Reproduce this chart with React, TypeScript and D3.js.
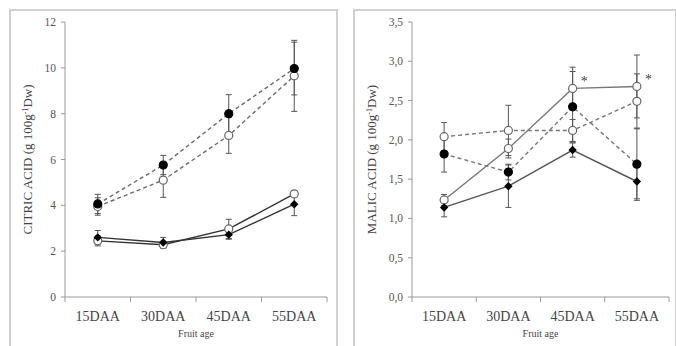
import React from 'react';
import * as d3 from 'd3';

const categories = ['15DAA', '30DAA', '45DAA', '55DAA'];

// citric acid panel
const citricTicks = [0, 2, 4, 6, 8, 10, 12];
const citricDashFilled = [4.06, 5.76, 8.0, 9.97];
const citricDashFilledErr = [0.42, 0.42, 0.83, 1.15];
const citricDashOpen = [3.95, 5.1, 7.05, 9.65];
const citricDashOpenErr = [0.38, 0.75, 0.78, 1.55];
const citricSolidFilled = [2.6, 2.38, 2.72, 4.05];
const citricSolidFilledErr = [0.3, 0.22, 0.2, 0.5];
const citricSolidOpen = [2.45, 2.28, 2.97, 4.5];
const citricSolidOpenErr = [0.22, 0.15, 0.42, 0.12];

// malic acid panel
const malicTicks = [0, 0.5, 1, 1.5, 2, 2.5, 3, 3.5];
const malicDashFilled = [1.82, 1.59, 2.42, 1.69];
const malicDashFilledErr = [0.23, 0.1, 0.45, 0.46];
const malicDashOpen = [2.04, 2.12, 2.12, 2.49];
const malicDashOpenErr = [0.18, 0.32, 0.14, 0.35];
const malicSolidFilled = [1.14, 1.41, 1.87, 1.47];
const malicSolidFilledErr = [0.12, 0.27, 0.09, 0.22];
const malicSolidOpen = [1.235, 1.89, 2.655, 2.68];
const malicSolidOpenErr = [0.07, 0.12, 0.27, 0.4];
const malicStars = [false, false, true, true];

type Series = {
  values: number[];
  err: number[];
  marker: 'filled' | 'open' | 'diamond';
  dashed: boolean;
  line: string;
};

const FONT = "'Liberation Serif', 'DejaVu Serif', serif";

function Panel(props: {
  left: number;
  right: number;
  axisX: number;
  axisEnd: number;
  max: number;
  ticks: number[];
  fmt: (v: number) => string;
  title: string;
  series: Series[];
  stars?: { values: number[]; show: boolean[] };
}) {
  const { left, right, axisX, axisEnd, max, ticks, fmt, title, series, stars } = props;
  const y = d3.scaleLinear().domain([0, max]).range([297, 22]);
  const x = d3.scaleBand<string>().domain(categories).range([axisX, axisEnd]);
  const cx = (c: string) => (x(c) ?? 0) + x.bandwidth() / 2;
  const line = d3
    .line<number>()
    .x((_, i) => cx(categories[i]))
    .y((d) => y(d));
  const bounds = [axisX, ...categories.map((c) => (x(c) ?? 0) + x.bandwidth())];

  return (
    <g>
      <rect x={left} y={10} width={right - left} height={345} fill="#fff" stroke="#d0d0d0" strokeWidth={2} />
      {/* y axis */}
      <line x1={axisX} x2={axisX} y1={y(max)} y2={y(0)} stroke="#9a9a9a" />
      {ticks.map((t) => (
        <g key={t}>
          <line x1={axisX - 4} x2={axisX} y1={y(t)} y2={y(t)} stroke="#9a9a9a" />
          <text x={axisX - 9} y={y(t)} dy="0.35em" textAnchor="end" fontSize={11.5} fill="#555" fontFamily={FONT}>
            {fmt(t)}
          </text>
        </g>
      ))}
      {/* x axis */}
      <line x1={axisX} x2={axisEnd} y1={y(0)} y2={y(0)} stroke="#9a9a9a" />
      {bounds.map((b, i) => (
        <line key={i} x1={b} x2={b} y1={y(0)} y2={y(0) + 5} stroke="#9a9a9a" />
      ))}
      {categories.map((c) => (
        <text key={c} x={cx(c)} y={321} textAnchor="middle" fontSize={14} fill="#444" fontFamily={FONT}>
          {c}
        </text>
      ))}
      <text x={(axisX + axisEnd) / 2} y={337} textAnchor="middle" fontSize={10} fill="#444" fontFamily={FONT}>
        Fruit age
      </text>
      <text
        transform={`translate(${left + 22},${(y(0) + y(max)) / 2}) rotate(-90)`}
        textAnchor="middle"
        fontSize={13}
        fill="#444"
        fontFamily={FONT}
      >
        {title.split('|')[0]}
        <tspan dy={-4} fontSize={8}>-1</tspan>
        <tspan dy={4}>{title.split('|')[1]}</tspan>
      </text>
      {/* lines */}
      {series.map((s, k) => (
        <path
          key={k}
          d={line(s.values) ?? ''}
          fill="none"
          stroke={s.line}
          strokeWidth={1.4}
          strokeDasharray={s.dashed ? '4,3' : undefined}
        />
      ))}
      {/* error bars */}
      {series.map((s, k) =>
        s.values.map((v, i) => {
          const px = cx(categories[i]);
          const hi = y(v + s.err[i]);
          const lo = y(v - s.err[i]);
          return (
            <g key={`${k}-${i}`} stroke="#555" strokeWidth={1}>
              <line x1={px} x2={px} y1={hi} y2={lo} />
              <line x1={px - 3} x2={px + 3} y1={hi} y2={hi} />
              <line x1={px - 3} x2={px + 3} y1={lo} y2={lo} />
            </g>
          );
        })
      )}
      {/* markers */}
      {series.map((s, k) =>
        s.values.map((v, i) => {
          const px = cx(categories[i]);
          const py = y(v);
          if (s.marker === 'diamond') {
            return (
              <path
                key={`m${k}-${i}`}
                d={`M${px},${py - 4.2}L${px + 4.2},${py}L${px},${py + 4.2}L${px - 4.2},${py}Z`}
                fill="#000"
              />
            );
          }
          return (
            <circle
              key={`m${k}-${i}`}
              cx={px}
              cy={py}
              r={4}
              fill={s.marker === 'filled' ? '#000' : '#fff'}
              stroke={s.marker === 'filled' ? '#000' : '#666'}
              strokeWidth={1.2}
            />
          );
        })
      )}
      {stars &&
        stars.values.map((v, i) =>
          stars.show[i] ? (
            <text key={`s${i}`} x={cx(categories[i]) + 8} y={y(v) - 2} fontSize={14} fill="#444" fontFamily={FONT}>
              *
            </text>
          ) : null
        )}
    </g>
  );
}

export default function App() {
  const citricSeries: Series[] = [
    { values: citricDashOpen, err: citricDashOpenErr, marker: 'open', dashed: true, line: '#6a6a6a' },
    { values: citricDashFilled, err: citricDashFilledErr, marker: 'filled', dashed: true, line: '#6a6a6a' },
    { values: citricSolidOpen, err: citricSolidOpenErr, marker: 'open', dashed: false, line: '#333' },
    { values: citricSolidFilled, err: citricSolidFilledErr, marker: 'diamond', dashed: false, line: '#333' },
  ];
  const malicSeries: Series[] = [
    { values: malicDashOpen, err: malicDashOpenErr, marker: 'open', dashed: true, line: '#777' },
    { values: malicDashFilled, err: malicDashFilledErr, marker: 'filled', dashed: true, line: '#777' },
    { values: malicSolidOpen, err: malicSolidOpenErr, marker: 'open', dashed: false, line: '#777' },
    { values: malicSolidFilled, err: malicSolidFilledErr, marker: 'diamond', dashed: false, line: '#555' },
  ];
  return (
    <svg width={676} height={346} style={{ position: 'absolute', left: 0, top: 0, background: '#fff' }}>
      <rect width={676} height={346} fill="#fff" />
      <Panel
        left={10}
        right={337}
        axisX={65}
        axisEnd={327}
        max={12}
        ticks={citricTicks}
        fmt={(v) => String(v)}
        title="CITRIC ACID (g 100g|Dw)"
        series={citricSeries}
      />
      <Panel
        left={354}
        right={676}
        axisX={412}
        axisEnd={669}
        max={3.5}
        ticks={malicTicks}
        fmt={(v) => d3.format('.1f')(v).replace('.', ',')}
        title="MALIC ACID (g 100g|Dw)"
        series={malicSeries}
        stars={{ values: malicSolidOpen, show: malicStars }}
      />
    </svg>
  );
}
